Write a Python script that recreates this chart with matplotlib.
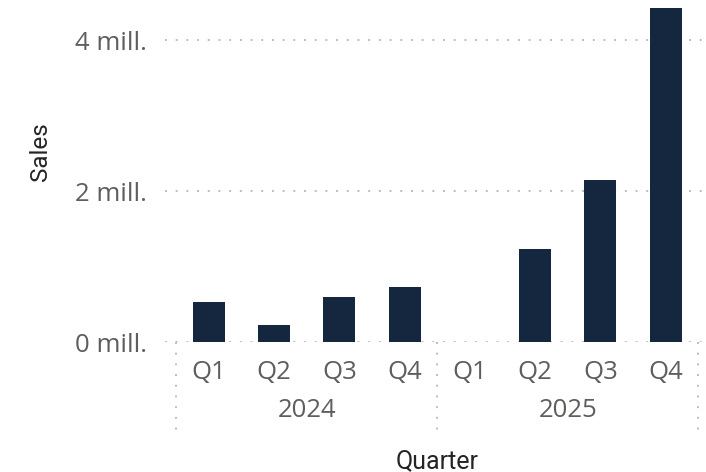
import numpy as np
import matplotlib
matplotlib.use("Agg")
import matplotlib.pyplot as plt

# sales per quarter, in millions
quarters = ["Q1", "Q2", "Q3", "Q4", "Q1", "Q2", "Q3", "Q4"]
years = ["2024", "2025"]
sales_mill = [0.53, 0.23, 0.60, 0.73, 0.0, 1.23, 2.14, 4.42]
y_ticks = [0, 2, 4]

bar_color = "#15273f"
tick_color = "#605e5c"
title_color = "#252423"
grid_color = "#bfbdbb"
dots = (0, (1, 4.5))

fig = plt.figure(figsize=(7.06, 4.72), dpi=100)
ax = fig.add_axes([165 / 706, 130 / 472, 541 / 706, 342 / 472])

x = np.arange(len(sales_mill))
ax.bar(x, sales_mill, width=0.49, color=bar_color, zorder=3)

ax.set_xlim(-0.675, 7.62)
ax.set_ylim(0, 4.53)

ax.set_yticks(y_ticks)
ax.set_yticklabels([f"{v} mill." for v in y_ticks])
ax.set_xticks(x)
ax.set_xticklabels(quarters)
ax.tick_params(axis="both", length=0, colors=tick_color, labelsize=18.5)
ax.tick_params(axis="y", pad=13)
ax.tick_params(axis="x", pad=13)
for lab in ax.get_xticklabels() + ax.get_yticklabels():
    lab.set_fontfamily("Open Sans")

for s in ax.spines.values():
    s.set_visible(False)
ax.grid(axis="y", color=grid_color, linestyle=dots, linewidth=1.4, zorder=0)
ax.set_axisbelow(True)

# year separators and labels below the quarter ticks
ax_h = 342.0
n_q = 4
for i in range(len(years) + 1):
    xs = i * n_q - 0.5
    ax.plot([xs, xs], [0, -93 / ax_h], transform=ax.get_xaxis_transform(),
            color=grid_color, linestyle=dots, linewidth=1.4, clip_on=False)
for i, yr in enumerate(years):
    xc = i * n_q + (n_q - 1) / 2
    ax.text(xc, -68.5 / ax_h, yr, transform=ax.get_xaxis_transform(),
            ha="center", va="center", fontsize=18.5, color=tick_color,
            family="Open Sans")

ax.set_xlabel("Quarter", fontsize=18, color=title_color, family="Roboto",
              labelpad=0)
ax.xaxis.set_label_coords(3.5, -119 / ax_h, transform=ax.get_xaxis_transform())
ax.set_ylabel("Sales", fontsize=17.5, color=title_color, family="Roboto")
ax.yaxis.set_label_coords(40 / 706, (472 - 152) / 472, transform=fig.transFigure)
ax.xaxis.label.set_va("center")
ax.yaxis.label.set_va("center")

fig.savefig("out.png", dpi=100)
